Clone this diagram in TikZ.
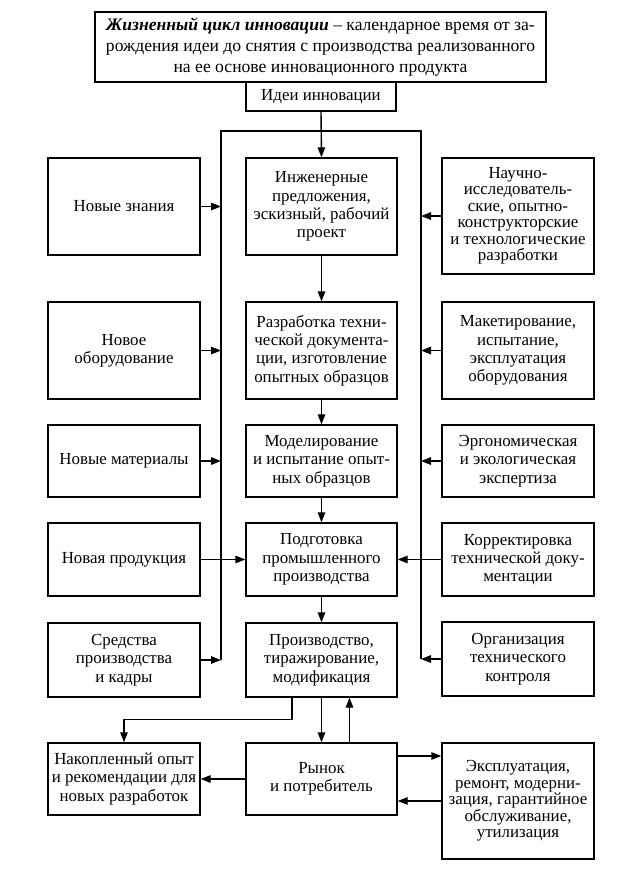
\documentclass[tikz,border=0pt]{standalone}
\usepackage{fontspec}
\setmainfont{Liberation Serif}
\usetikzlibrary{arrows.meta}
\begin{document}
\begin{tikzpicture}[x=1pt,y=-1pt,
  box/.style={draw, line width=1.4pt, inner sep=0pt, align=center,
    font=\fontsize{16.9}{18.3}\selectfont},
  colbox/.style={box, minimum width=152pt},
  tight/.style={font=\fontsize{16.9}{16.5}\selectfont},
  ln/.style={line width=1.4pt},
  arr/.style={line width=1.4pt, -{Triangle[length=10pt,width=7.5pt]}}]
\fill[white] (0,0) rectangle (621,876);
\useasboundingbox (0,0) rectangle (621,876);

% top
\node[box, minimum width=451pt, minimum height=70pt,
  font=\fontsize{17.6}{20.8}\selectfont] (top) at (320.5,47)
  {\textbf{\textit{Жизненный цикл инновации}} – календарное время от за-\\рождения идеи до снятия с производства реализованного\\на ее основе инновационного продукта};
\node[box, minimum width=150pt, minimum height=29pt] (idea) at (321,96.5) {Идеи инновации};

% left column
\node[colbox, minimum height=97pt] (nz) at (124,206.5) {Новые знания};
\node[colbox, minimum height=97pt] (no) at (124,350.5) {Новое\\оборудование};
\node[colbox, minimum height=72pt] (nm) at (124,461) {Новые материалы};
\node[colbox, minimum height=73pt] (np) at (124,559.5) {Новая продукция};
\node[colbox, minimum height=74pt] (sr) at (124,660) {Средства\\производства\\и кадры};
\node[colbox, minimum height=72pt] (nak) at (124,779) {Накопленный опыт\\и рекомендации для\\новых разработок};

% center column
\node[colbox, minimum width=151pt, minimum height=97pt] (inj) at (321.5,206.5) {Инженерные\\предложения,\\эскизный, рабочий\\проект};
\node[colbox, minimum width=151pt, minimum height=97pt] (raz) at (321.5,350.5) {Разработка техни-\\ческой документа-\\ции, изготовление\\опытных образцов};
\node[colbox, minimum width=151pt, minimum height=72pt] (mod) at (321.5,461) {Моделирование\\и испытание опыт-\\ных образцов};
\node[colbox, minimum width=151pt, minimum height=73pt] (pod) at (321.5,559.5) {Подготовка\\промышленного\\производства};
\node[colbox, minimum width=151pt, minimum height=74pt] (pro) at (321.5,660) {Производство,\\тиражирование,\\модификация};
\node[colbox, minimum width=151pt, minimum height=72pt] (ryn) at (321.5,779) {Рынок\\и потребитель};

% right column
\node[colbox, tight, minimum height=116pt] (nir) at (518,216) {Научно-\\исследователь-\\ские, опытно-\\конструкторские\\и технологические\\разработки};
\node[colbox, minimum height=97pt] (mak) at (518,350.5) {Макетирование,\\испытание,\\эксплуатация\\оборудования};
\node[colbox, minimum height=72pt] (erg) at (518,461) {Эргономическая\\и экологическая\\экспертиза};
\node[colbox, minimum height=73pt] (kor) at (518,559.5) {Корректировка\\технической доку-\\ментации};
\node[colbox, minimum height=74pt] (org) at (518,659) {Организация\\технического\\контроля};
\node[colbox, tight, minimum height=116pt] (exp) at (518,801) {Эксплуатация,\\ремонт, модерни-\\зация, гарантийное\\обслуживание,\\утилизация};

% frame
\coordinate (fl) at (221,131);
\coordinate (fr) at (421,131);
\draw[ln] (sr.east -| fl) -- (fl) -- (fr) -- (org.west -| fr);

% center chain
\draw[arr] (idea.south) -- (inj.north);
\draw[arr] (inj.south) -- (raz.north);
\draw[arr] (raz.south) -- (mod.north);
\draw[arr] (mod.south) -- (pod.north);
\draw[arr] (pod.south) -- (pro.north);
\draw[arr] (pro.south) -- (ryn.north);
\draw[arr] ([xshift=28pt]ryn.north) -- ([xshift=28pt]pro.south);

% left inputs
\draw[arr] (nz.east) -- (nz.east -| fl);
\draw[arr] (no.east) -- (no.east -| fl);
\draw[arr] (nm.east) -- (nm.east -| fl);
\draw[arr] (np.east) -- (pod.west);
\draw[arr] (sr.east) -- (sr.east -| fl);

% right inputs
\draw[arr] (nir.west) -- (nir.west -| fr);
\draw[arr] (mak.west) -- (mak.west -| fr);
\draw[arr] (erg.west) -- (erg.west -| fr);
\draw[arr] (kor.west) -- (pod.east);
\draw[arr] (org.west) -- (org.west -| fr);

% bottom
\draw[arr] ([xshift=-29.5pt]pro.south) -- ++(0,22) -| (nak.north);
\draw[arr] (ryn.west) -- (nak.east);
\draw[arr] ([yshift=23pt]ryn.east) -- ([yshift=23pt]ryn.east -| exp.west);
\draw[arr] (exp.west) -- (exp.west -| ryn.east);
\end{tikzpicture}
\end{document}
